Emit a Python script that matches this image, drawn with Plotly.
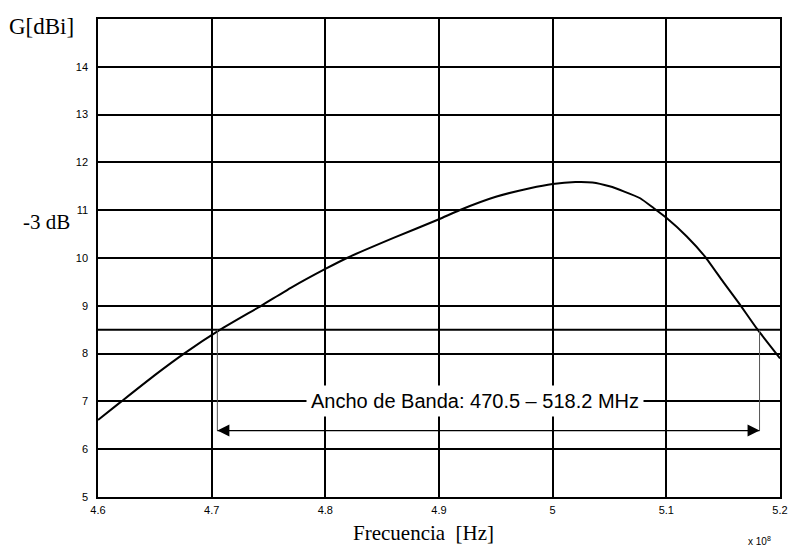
import plotly.graph_objects as go

# Frequency (x 10^8 Hz) and gain (dBi)
freq = [4.60, 4.6206, 4.65, 4.6757, 4.7075, 4.7435, 4.77, 4.80, 4.819, 4.86, 4.90, 4.918,
        4.95, 4.98, 5.00, 5.02, 5.035, 5.05, 5.063, 5.077, 5.089, 5.10, 5.118, 5.134,
        5.15, 5.164, 5.18, 5.20]
gain = [6.61, 7.0, 7.55, 8.0, 8.5, 9.0, 9.38, 9.77, 10.0, 10.42, 10.81, 11.0,
        11.28, 11.46, 11.55, 11.59, 11.58, 11.50, 11.39, 11.25, 11.04, 10.84, 10.45, 10.03,
        9.50, 9.05, 8.51, 7.90]

bw_low = 4.705
bw_high = 5.182
level_3db = 8.5
arrow_level = 6.39
bw_text = "Ancho de Banda: 470.5 \u2013 518.2 MHz"
bw_text_pos = (4.932, 7.0)

x_ticks = [4.6, 4.7, 4.8, 4.9, 5.0, 5.1, 5.2]
x_ticktext = ["4.6", "4.7", "4.8", "4.9", "5", "5.1", "5.2"]
y_ticks = [5, 6, 7, 8, 9, 10, 11, 12, 13, 14]
y_ticktext = ["5", "6", "7", "8", "9", "10", "11", "12", "13", "14"]

fig = go.Figure()

# -3 dB reference line
fig.add_trace(go.Scatter(x=[x_ticks[0], x_ticks[-1]], y=[level_3db, level_3db], mode="lines",
                         line=dict(color="black", width=2),
                         showlegend=False, hoverinfo="skip"))

fig.add_trace(go.Scatter(x=freq, y=gain, mode="lines",
                         line=dict(color="black", width=2, shape="spline", smoothing=0.5),
                         showlegend=False, hoverinfo="skip"))

for xv in (bw_low, bw_high):
    fig.add_trace(go.Scatter(x=[xv, xv], y=[level_3db, arrow_level], mode="lines",
                             line=dict(color="#555555", width=1),
                             showlegend=False, hoverinfo="skip"))

# double-headed bandwidth arrow
fig.add_trace(go.Scatter(x=[bw_low, bw_high], y=[arrow_level, arrow_level], mode="lines+markers",
                         line=dict(color="black", width=1.2),
                         marker=dict(symbol=["arrow-left", "arrow-right"], size=12, color="black"),
                         showlegend=False, hoverinfo="skip"))

fig.add_annotation(x=bw_text_pos[0], y=bw_text_pos[1], xref="x", yref="y", text=bw_text,
                   showarrow=False,
                   font=dict(family="Arial, Liberation Sans", size=20, color="black"),
                   bgcolor="white", borderpad=4)

fig.update_layout(
    width=798, height=552,
    margin=dict(l=98, r=10, t=19, b=55),
    paper_bgcolor="white", plot_bgcolor="white",
    xaxis=dict(range=[4.6, 5.2], tickvals=x_ticks, ticktext=x_ticktext,
               showgrid=True, gridcolor="black", gridwidth=1.5,
               showline=True, linecolor="black", linewidth=1.5, mirror=True,
               zeroline=False, ticks="outside", ticklen=2, tickcolor="rgba(0,0,0,0)",
               tickfont=dict(family="Arial, Liberation Sans", size=11, color="black")),
    yaxis=dict(range=[5, 15], tickvals=y_ticks, ticktext=y_ticktext,
               showgrid=True, gridcolor="black", gridwidth=1.5,
               showline=True, linecolor="black", linewidth=1.5, mirror=True,
               zeroline=False, ticks="outside", ticklen=6, tickcolor="rgba(0,0,0,0)",
               tickfont=dict(family="Arial, Liberation Sans", size=11, color="black")),
    font=dict(family="Liberation Serif", color="black"),
)

# Axis titles / labels positioned as in the original
fig.add_annotation(x=(6 - 98) / 690, y=1.0, xref="paper", yref="paper", xanchor="left", yanchor="bottom",
                   yshift=-22, text="G[dBi]", showarrow=False,
                   font=dict(family="Liberation Serif, Times New Roman", size=23, color="black"))
fig.add_annotation(x=(46 - 98) / 690, y=(497 - 222) / 478, xref="paper", yref="paper",
                   xanchor="center", yanchor="middle",
                   text="-3 dB", showarrow=False,
                   font=dict(family="Liberation Serif, Times New Roman", size=21, color="black"))
fig.add_annotation(x=(427 - 98) / 690, y=0, xref="paper", yref="paper", xanchor="center", yanchor="top",
                   yshift=-22, text="Frecuencia  [Hz]", showarrow=False,
                   font=dict(family="Liberation Serif, Times New Roman", size=21, color="black"))
fig.add_annotation(x=(767 - 98) / 690, y=0, xref="paper", yref="paper", xanchor="center", yanchor="top",
                   yshift=-36, text="x 10<sup>8</sup>", showarrow=False,
                   font=dict(family="Arial, Liberation Sans", size=10, color="black"))

fig.write_html("out.html")
